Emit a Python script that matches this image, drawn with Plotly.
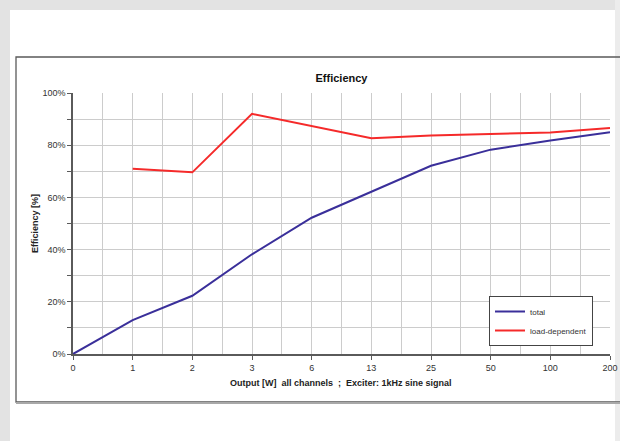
import plotly.graph_objects as go

categories = ["0", "1", "2", "3", "6", "13", "25", "50", "100", "200"]
total = [0.0, 0.13, 0.223, 0.382, 0.522, 0.623, 0.721, 0.783, 0.818, 0.85]
load_dependent = [None, 0.71, 0.696, 0.92, 0.874, 0.827, 0.837, 0.842, 0.849, 0.866]
y_ticks = [0, 0.2, 0.4, 0.6, 0.8, 1.0]

FONT = "Liberation Sans, Arial, sans-serif"
xpos = list(range(len(categories)))

fig = go.Figure()
fig.add_trace(go.Scatter(x=xpos, y=total, mode="lines", name="total",
                         line=dict(color="#3a2f9a", width=2)))
fig.add_trace(go.Scatter(x=xpos, y=load_dependent, mode="lines", name="load-dependent",
                         line=dict(color="#f52a2a", width=2)))

# plot area in screen px: x 73..610, y 93..354
L, R, T, B = 73, 610, 93, 354
W, H = R - L, B - T
def px(xp):
    return (xp - L) / W
def py(yp):
    return (B - yp) / H

shapes = [
    # grey page edges
    dict(type="rect", xref="paper", yref="paper", x0=px(0), x1=px(10), y0=py(441), y1=py(0),
         fillcolor="#e3e3e3", line=dict(width=0), layer="below"),
    dict(type="rect", xref="paper", yref="paper", x0=px(0), x1=px(630), y0=py(10), y1=py(0),
         fillcolor="#e3e3e3", line=dict(width=0), layer="below"),
    dict(type="rect", xref="paper", yref="paper", x0=px(615), x1=px(630), y0=py(441), y1=py(0),
         fillcolor="#ececec", line=dict(width=0), layer="below"),
    # chart frame
    dict(type="rect", xref="paper", yref="paper", x0=px(16), x1=px(640), y0=py(402), y1=py(57),
         fillcolor="rgba(0,0,0,0)", line=dict(color="#5a5a5a", width=1.3), layer="below"),
    dict(type="line", xref="paper", yref="paper", x0=px(16), x1=px(640), y0=py(403), y1=py(403),
         line=dict(color="#a8a8a8", width=2), layer="below"),
]

fig.update_layout(
    width=620, height=441, autosize=False,
    margin=dict(l=L, r=620 - R, t=T, b=441 - B, autoexpand=False),
    paper_bgcolor="white", plot_bgcolor="white",
    font=dict(family=FONT, size=9, color="#333333"),
    title=dict(text="<b>Efficiency</b>", x=0.5, xref="paper", xanchor="center",
               y=1 - 78 / 441, yanchor="middle", yref="container",
               font=dict(family=FONT, size=11, color="#111111")),
    shapes=shapes,
    showlegend=True,
    legend=dict(x=px(593), xanchor="right", y=py(346), yanchor="bottom",
                bgcolor="white", bordercolor="#444444", borderwidth=1,
                font=dict(family=FONT, size=8, color="#333333"),
                itemwidth=30, tracegroupgap=0),
    annotations=[
        dict(text="<b>Output [W]  all channels  ;  Exciter: 1kHz sine signal</b>",
             xref="paper", yref="paper", x=px(341), y=py(383), xanchor="center",
             yanchor="middle", showarrow=False,
             font=dict(family=FONT, size=9, color="#222222")),
        dict(text="<b>Efficiency [%]</b>", xref="paper", yref="paper",
             x=px(35), y=py(224), xanchor="center", yanchor="middle",
             textangle=-90, showarrow=False,
             font=dict(family=FONT, size=9, color="#222222")),
    ],
)

fig.update_xaxes(
    range=[0, len(categories) - 1], tickvals=xpos, ticktext=categories,
    automargin=False, ticklabeloverflow="allow",
    showgrid=True, gridcolor="#cccccc", gridwidth=1.2,
    showline=True, linecolor="#5a5a5a", linewidth=1.5,
    ticks="outside", ticklen=4, tickcolor="#5a5a5a", tickwidth=1,
    minor=dict(tickvals=[i + 0.5 for i in xpos[:-1]], showgrid=True,
               gridcolor="#cccccc", gridwidth=1.2),
    zeroline=False, tickfont=dict(size=9, color="#333333"),
)
fig.update_yaxes(
    range=[0, 1], tickvals=y_ticks, tickformat=".0%",
    automargin=False,
    showgrid=True, gridcolor="#cccccc", gridwidth=1.2,
    showline=True, linecolor="#5a5a5a", linewidth=1.5,
    ticks="outside", ticklen=4, tickcolor="#5a5a5a", tickwidth=1,
    minor=dict(dtick=0.1, tick0=0, showgrid=True, gridcolor="#cccccc",
               gridwidth=1.2, ticks="outside", ticklen=4, tickcolor="#5a5a5a"),
    zeroline=False, tickfont=dict(size=9, color="#333333"),
)

post = (
    "document.documentElement.style.overflow='hidden';"
    "document.body.style.margin='0';document.body.style.padding='0';"
    "document.body.style.overflow='hidden';"
)
fig.write_html(
    "out.html",
    config={"displayModeBar": False, "responsive": False},
    post_script=post,
)
